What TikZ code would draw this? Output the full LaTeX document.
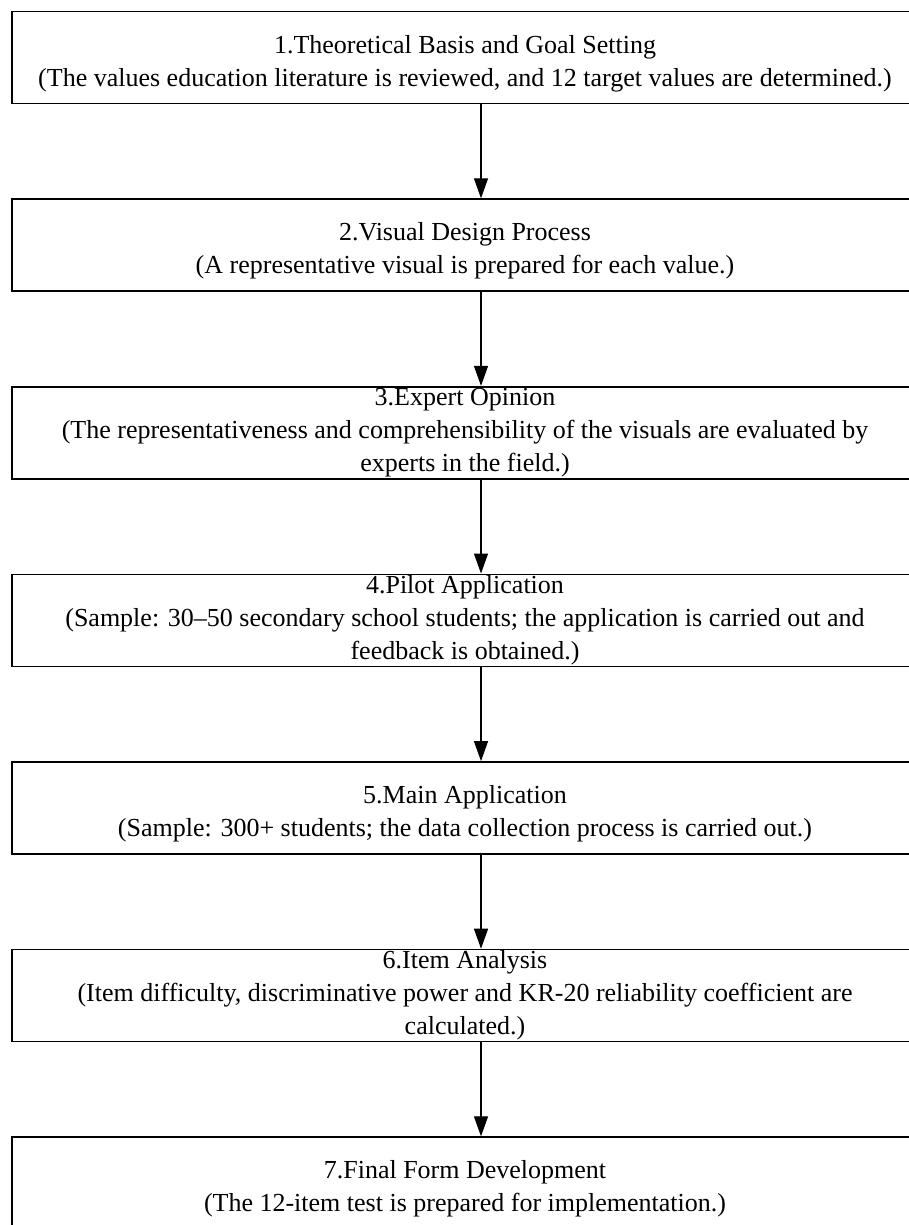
\documentclass[tikz,border=0pt]{standalone}
\usepackage{fontspec}
\setmainfont{Liberation Serif}
\usetikzlibrary{arrows.meta,positioning}

\begin{document}
\begin{tikzpicture}[x=1pt,y=1pt,node distance=94pt,>={Triangle[width=14pt,length=20pt]},
  every node/.style={font=\fontsize{26}{33}\selectfont},
  stage/.style={draw,line width=1.6pt,minimum width=906pt,minimum height=92pt,align=center,inner sep=0pt},
  twoline/.style={stage,text height=63pt},
  flow/.style={->,line width=1.2pt}]
  \useasboundingbox (0,0) rectangle (908,-1225);
  \node[twoline] (s1) at (465,-57.5) {1.Theoretical Basis and Goal Setting\\(The values education literature is reviewed, and 12 target values are determined.)};
  \node[twoline,below=of s1] (s2) {2.Visual Design Process\\(A representative visual is prepared for each value.)};
  \node[stage,below=of s2] (s3) {3.Expert Opinion\\(The representativeness and comprehensibility of the visuals are evaluated by\\experts in the field.)};
  \node[stage,below=of s3] (s4) {4.Pilot Application\\(Sample: 30--50 secondary school students; the application is carried out and\\feedback is obtained.)};
  \node[twoline,below=of s4] (s5) {5.Main Application\\(Sample: 300+ students; the data collection process is carried out.)};
  \node[stage,below=of s5] (s6) {6.Item Analysis\\(Item difficulty, discriminative power and KR-20 reliability coefficient are\\calculated.)};
  \node[twoline,below=of s6] (s7) {7.Final Form Development\\(The 12-item test is prepared for implementation.)};
  \foreach \a/\b in {s1/s2,s2/s3,s3/s4,s4/s5,s5/s6,s6/s7}
    \draw[flow] ([xshift=16pt]\a.south) -- ([xshift=16pt]\b.north);
\end{tikzpicture}
\end{document}
